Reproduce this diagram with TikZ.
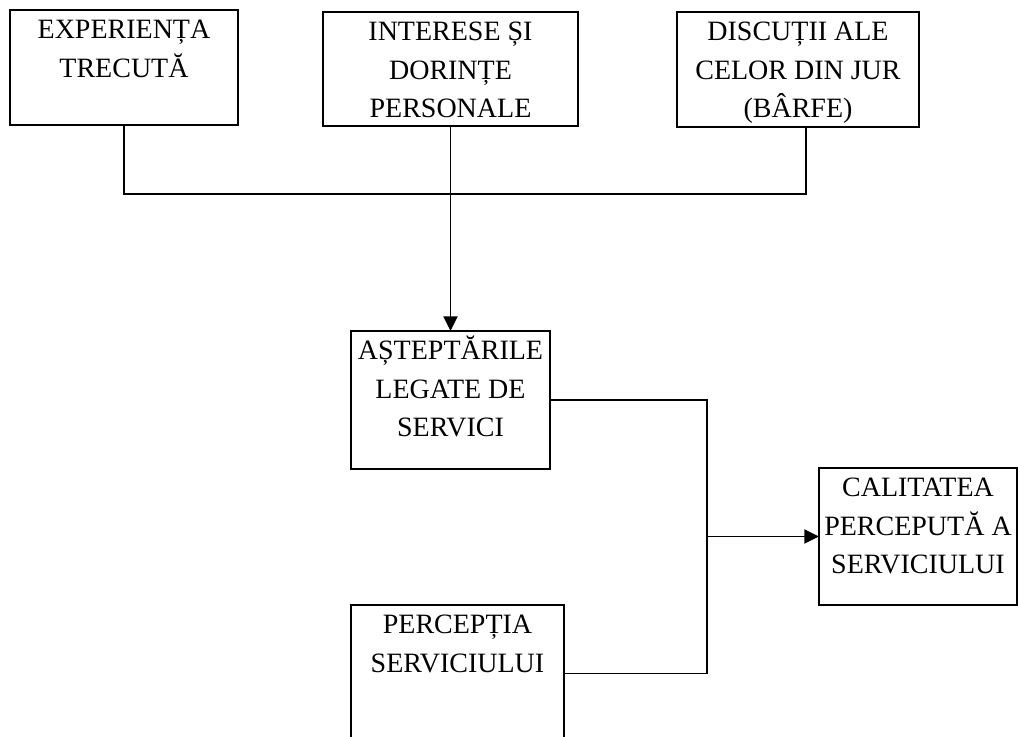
\documentclass[tikz,border=0pt]{standalone}
\usepackage{fontspec}
\setmainfont{Liberation Serif}
\usetikzlibrary{arrows.meta}

% top-aligned, centred text inside a fixed-size box
\newcommand{\boxtxt}[3]{\parbox[c][#2][t]{#1}{\centering\fontsize{21}{28.8}\selectfont\rule{0pt}{21.5pt}#3}}

\begin{document}
\begin{tikzpicture}[x=0.75pt,y=-0.75pt,
  blk/.style={draw=black, line width=1.4pt, fill=white, inner sep=0pt, outer sep=0pt},
  link/.style={line width=1.4pt, draw=black},
  arr/.style={link, -{Triangle[length=11pt,width=10.5pt]}}]

\fill[white] (0,0) rectangle (1018,737);
\useasboundingbox (0,0) rectangle (1018,737);

% boxes
\node[blk] (b1) at (124,67.5)  {\boxtxt{171pt}{86.25pt}{EXPERIENȚA\\TRECUTĂ}};
\node[blk] (b2) at (450.5,69)  {\boxtxt{191.25pt}{85.5pt}{INTERESE ȘI\\DORINȚE\\PERSONALE}};
\node[blk] (b3) at (798,69.5)  {\boxtxt{181.5pt}{86.25pt}{DISCUȚII ALE\\CELOR DIN JUR\\(BÂRFE)}};
\node[blk] (b4) at (450.5,400) {\boxtxt{149.25pt}{103.5pt}{AȘTEPTĂRILE\\LEGATE DE\\SERVICI}};
\node[blk] (b5) at (918,536.5) {\boxtxt{148.5pt}{102.75pt}{CALITATEA\\PERCEPUTĂ A\\SERVICIULUI}};
\node[blk] (b6) at (457.5,673.5) {\boxtxt{159.75pt}{102.75pt}{PERCEPȚIA\\SERVICIULUI}};

% junction points
\coordinate (j1) at (451,194);
\coordinate (j2) at (707,536.5);

% connectors
\draw[link] (b1.south) |- (j1) -| ([xshift=6pt]b3.south);
\draw[arr] (b2.south) -- (b4.north);
\draw[link] (b4.east) -| (j2) |- (b6.east);
\draw[arr] (j2) -- (b5.west);

\end{tikzpicture}
\end{document}
